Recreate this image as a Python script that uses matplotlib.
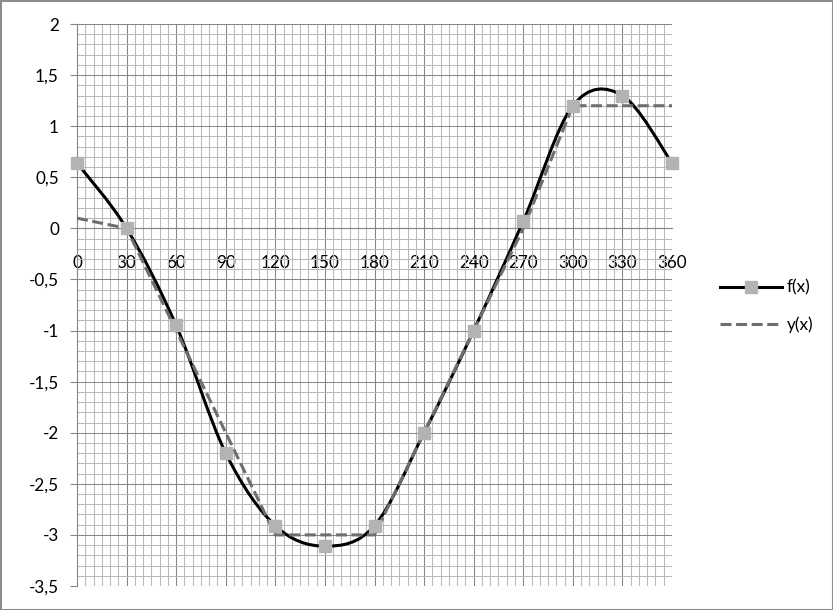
import numpy as np
import matplotlib
matplotlib.use("Agg")
import matplotlib.pyplot as plt
from matplotlib.path import Path
from matplotlib.patches import PathPatch, Rectangle
from matplotlib.lines import Line2D

# ---- data ----
x_values = [0, 30, 60, 90, 120, 150, 180, 210, 240, 270, 300, 330, 360]
f_values = [0.64, 0.0, -0.95, -2.2, -2.91, -3.11, -2.91, -2.0, -1.0, 0.07, 1.2, 1.3, 0.64]
y_values = [0.1, 0.0, -1.0, -2.0, -3.0, -3.0, -3.0, -2.0, -1.0, 0.0, 1.2, 1.2, 1.2]
x_tick_labels = ["0", "30", "60", "90", "120", "150", "180", "210", "240", "270", "300", "330", "360"]
y_ticks = [2, 1.5, 1, 0.5, 0, -0.5, -1, -1.5, -2, -2.5, -3, -3.5]
y_tick_labels = ["2", "1,5", "1", "0,5", "0", "-0,5", "-1", "-1,5", "-2", "-2,5", "-3", "-3,5"]
series_names = ["f(x)", "y(x)"]

W, H = 833, 610
FONT = "Lato"
FS = 12.3
MAJ = "#868686"
MIN = "#b9b9b9"

fig = plt.figure(figsize=(W / 100, H / 100), dpi=100)
fig.patches.append(Rectangle((0, 0), 1, 1, transform=fig.transFigure, fill=False,
                             edgecolor="#8c8c8c", linewidth=2.2))

L, R, T, B = 77, 672, 24, 586
ax = fig.add_axes([L / W, 1 - B / H, (R - L) / W, (B - T) / H])
ax.set_xlim(0, 360)
ax.set_ylim(-3.5, 2)

# grid
ax.set_xticks(np.arange(0, 361, 30))
ax.set_xticks(np.arange(0, 361, 5), minor=True)
ax.set_yticks(y_ticks)
ax.set_yticks(np.arange(-3.5, 2.001, 0.1), minor=True)
ax.grid(which="minor", color=MIN, linewidth=0.75, zorder=0)
ax.grid(which="major", color=MAJ, linewidth=0.75, zorder=0)
ax.set_axisbelow(True)

for s in ["top", "right"]:
    ax.spines[s].set_visible(False)
ax.spines["left"].set_color(MAJ)
ax.spines["left"].set_linewidth(0.8)
ax.spines["bottom"].set_position(("data", 0))
ax.spines["bottom"].set_color(MAJ)
ax.spines["bottom"].set_linewidth(0.8)

ax.set_xticklabels(x_tick_labels, fontfamily=FONT, fontsize=FS)
ax.set_yticklabels(y_tick_labels, fontfamily=FONT, fontsize=FS)
ax.tick_params(axis="x", which="both", length=0, pad=19)
ax.tick_params(axis="y", which="major", length=5, color=MAJ, width=0.8, pad=8)
ax.tick_params(axis="y", which="minor", length=0)

# smoothed f(x) line (Excel-like Bezier smoothing)
xs = np.array(x_values, dtype=float)
fs = np.array(f_values, dtype=float)
pts = np.column_stack([xs, fs])
verts = [pts[0]]
codes = [Path.MOVETO]
n = len(pts)
for i in range(n - 1):
    p0 = pts[i - 1] if i > 0 else pts[i]
    p1 = pts[i]
    p2 = pts[i + 1]
    p3 = pts[i + 2] if i + 2 < n else pts[i + 1]
    c1 = p1 + (p2 - p0) / 6.0
    c2 = p2 - (p3 - p1) / 6.0
    verts += [c1, c2, p2]
    codes += [Path.CURVE4] * 3
patch = PathPatch(Path(verts, codes), facecolor="none", edgecolor="black",
                  linewidth=2.2, zorder=3, capstyle="round", joinstyle="round")
ax.add_patch(patch)

# y(x) dashed
ax.plot(x_values, y_values, color="#6e6e6e", linewidth=2.2, dashes=(3.6, 1.5),
        zorder=4, clip_on=False)

# markers of f(x)
ax.plot(x_values, f_values, linestyle="none", marker="s", markersize=8,
        markerfacecolor="#b3b3b3", markeredgecolor="#b3b3b3", zorder=5, clip_on=False)

handles = [
    Line2D([], [], color="black", linewidth=2.2, marker="s", markersize=8,
           markerfacecolor="#b3b3b3", markeredgecolor="#b3b3b3"),
    Line2D([], [], color="#6e6e6e", linewidth=2.2, dashes=(3.6, 1.5)),
]
fig.legend(handles, series_names, loc="center left",
           bbox_to_anchor=(720 / W, 1 - 306 / H), frameon=False,
           prop={"family": FONT, "size": FS}, handlelength=3.6,
           handletextpad=0.3, labelspacing=1.2, borderaxespad=0, borderpad=0)

fig.savefig("out.png", dpi=100)
